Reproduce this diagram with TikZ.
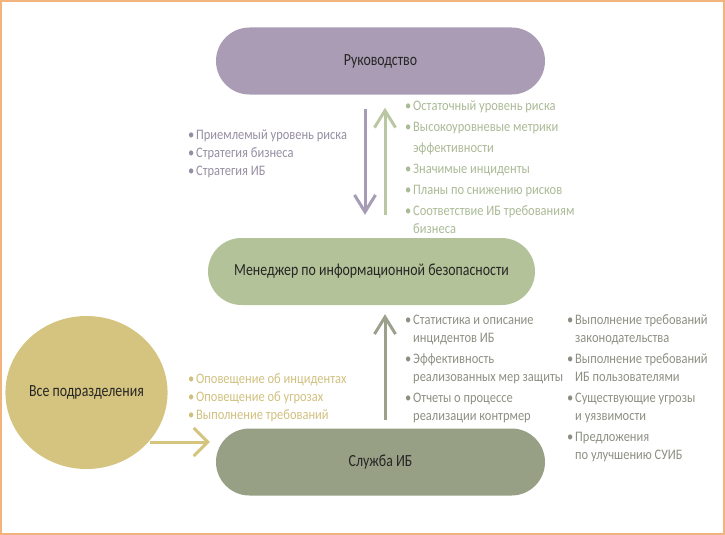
\documentclass[tikz,border=0pt]{standalone}
\usepackage{fontspec}
\setmainfont{Carlito}[FakeStretch=0.86]
\newfontfamily\labfont{Carlito}[FakeStretch=0.815]
\usetikzlibrary{arrows.meta,shapes.geometric,calc}
\definecolor{rukfill}{HTML}{A99CB4}
\definecolor{menfill}{HTML}{B3C299}
\definecolor{slufill}{HTML}{979F85}
\definecolor{circfill}{HTML}{D5C47F}
\definecolor{purparrow}{HTML}{A69CB6}
\definecolor{greenarrow}{HTML}{B9C8A2}
\definecolor{midarrow}{HTML}{9CA18C}
\definecolor{goldarrow}{HTML}{D4C47E}
\definecolor{txtpurple}{HTML}{958EA2}
\definecolor{txtgreen}{HTML}{AABA96}
\definecolor{txtgrey}{HTML}{8C9083}
\definecolor{txtgold}{HTML}{D0C07F}
\definecolor{frame}{HTML}{F2B37C}
\definecolor{labeltxt}{HTML}{262624}
\newcommand\bl{\makebox[8pt][l]{•}}
\newcommand\ind{\hspace*{8pt}}
\tikzset{
  stadium/.style={draw=none, rectangle, rounded corners=33.5pt, minimum height=67pt,
    text=labeltxt, font=\labfont\fontsize{17}{20}\selectfont, inner sep=0pt},
  listtxt/.style={anchor=base west, inner sep=0pt, align=left,
    font=\fontsize{14.5}{18}\selectfont},
  vhead/.style={-{Straight Barb[length=17pt,width=21pt,line width=3pt]}, line width=3pt},
  hhead/.style={-{Straight Barb[length=14pt,width=28pt,line width=3pt]}, line width=3pt}
}
\begin{document}
\begin{tikzpicture}[x=1pt,y=-1pt]
\useasboundingbox (0,0) rectangle (725,535);
\draw[frame, line width=2pt] (1,1) rectangle (724,534);

\node[stadium, fill=rukfill, minimum width=329pt] (ruk) at (380.5,61) {Руководство};
\node[stadium, fill=menfill, minimum width=327pt] (men) at (371.5,271.5) {Менеджер по информационной безопасности};
\node[stadium, fill=slufill, minimum width=329pt] (slu) at (380.5,462) {Служба ИБ};
\node[ellipse, fill=circfill, minimum width=147pt, minimum height=153pt, inner sep=0pt,
  text=labeltxt, font=\labfont\fontsize{17}{20}\selectfont] (circ) at (86.5,392.5) {Все подразделения};

\coordinate (xa) at (365,0);
\coordinate (xb) at (385,0);
\draw[vhead, purparrow, shorten <=14pt, shorten >=23pt] (ruk.south -| xa) -- (men.north -| xa);
\draw[vhead, greenarrow, shorten <=23pt, shorten >=13pt] (men.north -| xb) -- (ruk.south -| xb);
\draw[vhead, midarrow, shorten <=8pt, shorten >=9pt] (slu.north -| xb) -- (men.south -| xb);
\coordinate (g1) at ($(circ.center)+(63.5,49.5)$);
\coordinate (g2) at ($(slu.west)+(-6,-20)$);
\draw[hhead, goldarrow] (g1) -- (g2);

\node[listtxt, text=txtpurple] (lst1) at (188,139.3) {\begin{tabular}[t]{@{}l@{}}
\bl Приемлемый уровень риска\\
\bl Стратегия бизнеса\\
\bl Стратегия ИБ
\end{tabular}};

\node[listtxt, text=txtgreen] (lst2) at (405,110.3) {\begin{tabular}[t]{@{}l@{}}
\bl Остаточный уровень риска\\[3pt]
\bl Высокоуровневые метрики\\[3pt]
\ind эффективности\\[3pt]
\bl Значимые инциденты\\[3pt]
\bl Планы по снижению рисков\\[3pt]
\bl Соответствие ИБ требованиям\\
\ind бизнеса
\end{tabular}};

\node[listtxt, text=txtgold] (lst3) at (188,383.3) {\begin{tabular}[t]{@{}l@{}}
\bl Оповещение об инцидентах\\
\bl Оповещение об угрозах\\
\bl Выполнение требований
\end{tabular}};

\node[listtxt, text=txtgrey] (lst4) at (405,324.3) {\begin{tabular}[t]{@{}l@{}}
\bl Статистика и описание\\
\ind инцидентов ИБ\\[3pt]
\bl Эффективность\\
\ind реализованных мер защиты\\[3pt]
\bl Отчеты о процессе\\
\ind реализации контрмер
\end{tabular}};

\node[listtxt, text=txtgrey] (lst5) at (567,324.3) {\begin{tabular}[t]{@{}l@{}}
\bl Выполнение требований\\
\ind законодательства\\[3pt]
\bl Выполнение требований\\
\ind ИБ пользователями\\[3pt]
\bl Существующие угрозы\\
\ind и уязвимости\\[3pt]
\bl Предложения\\
\ind по улучшению СУИБ
\end{tabular}};
\end{tikzpicture}
\end{document}
